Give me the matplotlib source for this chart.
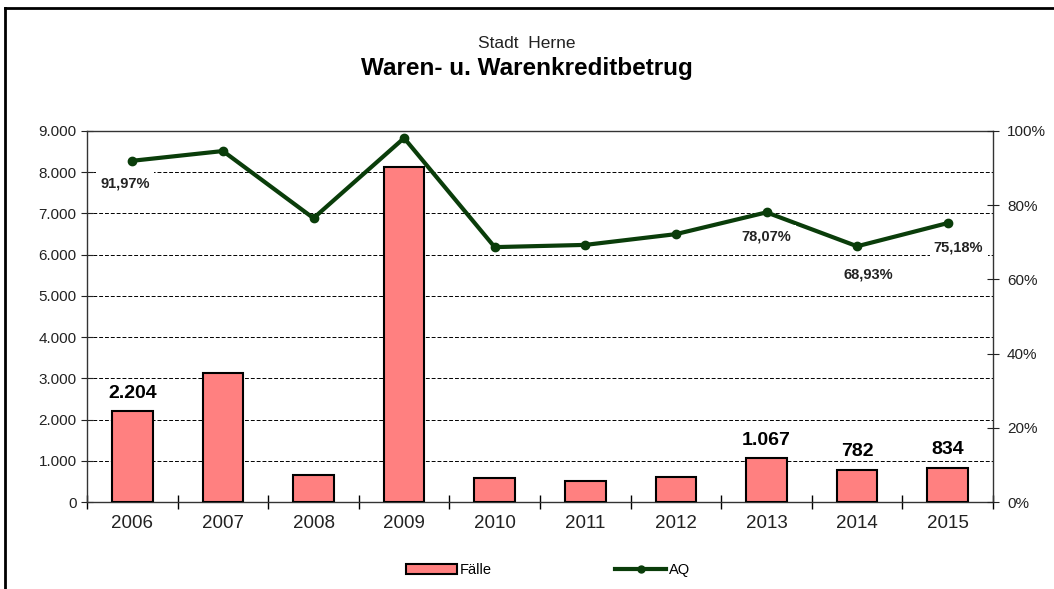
import matplotlib
matplotlib.use("Agg")
import matplotlib.pyplot as plt
from matplotlib.lines import Line2D
from matplotlib.patches import Patch
import numpy as np

plt.rcParams['font.family'] = ['Liberation Sans', 'DejaVu Sans']

# data
years = ['2006', '2007', '2008', '2009', '2010', '2011', '2012', '2013', '2014', '2015']
faelle = [2204, 3130, 650, 8130, 580, 510, 610, 1067, 782, 834]
aq = [91.97, 94.6, 76.5, 98.1, 68.7, 69.3, 72.2, 78.07, 68.93, 75.18]

# which points carry labels
bar_labels = {0: '2.204', 7: '1.067', 8: '782', 9: '834'}
aq_labels = {0: ('91,97%', -0.08, -6.0), 7: ('78,07%', 0.0, -6.5),
             8: ('68,93%', 0.12, -7.5), 9: ('75,18%', 0.12, -6.5)}

green = '#0a3d0a'
bar_col = '#ff8080'

fig = plt.figure(figsize=(10.54, 5.89), dpi=100)
ax = fig.add_axes([87/1054, 87/589, 906/1054, 371/589])
x = np.arange(len(years))

# bars
ax.bar(x, faelle, width=0.45, color=bar_col, edgecolor='black', linewidth=1.5, zorder=3)
ax.set_ylim(0, 9000)
ax.set_xlim(-0.5, len(years) - 0.5)
ax.set_yticks(range(0, 9001, 1000))
ax.set_yticklabels(['0'] + [f'{v // 1000}.000' for v in range(1000, 9001, 1000)])
for v in range(1000, 9000, 1000):
    ax.axhline(v, color='black', linestyle=(0, (4, 2)), linewidth=0.7, zorder=1)

ax.set_xticks(x)
ax.set_xticklabels(years, fontsize=13.5, color='#222222')
ax.set_xticks(np.arange(-0.5, len(years)), minor=True)
ax.tick_params(axis='x', which='major', length=0, pad=9)
ax.tick_params(axis='x', which='minor', direction='inout', length=10, width=1)
ax.tick_params(axis='y', direction='inout', length=8, labelsize=11, colors='#222222')
for s in ax.spines.values():
    s.set_linewidth(1)
    s.set_color('#333333')

for i, txt in bar_labels.items():
    ax.text(i, faelle[i] + 230, txt, ha='center', va='bottom', fontsize=14,
            fontweight='bold', zorder=6)

# percentage line on secondary axis
ax2 = ax.twinx()
ax2.set_ylim(0, 100)
ax2.set_yticks(range(0, 101, 20))
ax2.set_yticklabels([f'{v}%' for v in range(0, 101, 20)])
ax2.tick_params(axis='y', direction='inout', length=8, labelsize=11, colors='#222222', pad=6)
ax2.plot(x, aq, color=green, linewidth=3, marker='o', markersize=6, zorder=5)
for s in ax2.spines.values():
    s.set_visible(False)

for i, (txt, dx, dy) in aq_labels.items():
    ax2.text(i + dx, aq[i] + dy, txt, ha='center', va='center', fontsize=10.5,
             fontweight='bold', color='#222222',
             bbox=dict(facecolor='white', edgecolor='none', pad=3), zorder=6)

# titles
fig.text(0.5, 1 - 44/589, 'Stadt  Herne', ha='center', va='center', fontsize=12.5, color='#222222')
fig.text(0.5, 1 - 68/589, 'Waren- u. Warenkreditbetrug', ha='center', va='center',
         fontsize=17.5, fontweight='bold')

# legend
handles = [Patch(facecolor=bar_col, edgecolor='black', linewidth=1.5),
           Line2D([0], [0], color=green, linewidth=3, marker='o', markersize=5)]
fig.legend(handles, ['Fälle', 'AQ'], loc='center', bbox_to_anchor=(548/1054, 1 - 570/589),
           ncol=2, frameon=False, fontsize=10.5, handlelength=3.5, handletextpad=0.2,
           columnspacing=8.5, numpoints=1)

# outer chart frame
fig.add_artist(Line2D([5/1054, 5/1054], [0, 1 - 8/589], color='black', linewidth=2,
                      transform=fig.transFigure))
fig.add_artist(Line2D([5/1054, 1], [1 - 8/589, 1 - 8/589], color='black', linewidth=2,
                      transform=fig.transFigure))

fig.savefig('out.png', dpi=100)
